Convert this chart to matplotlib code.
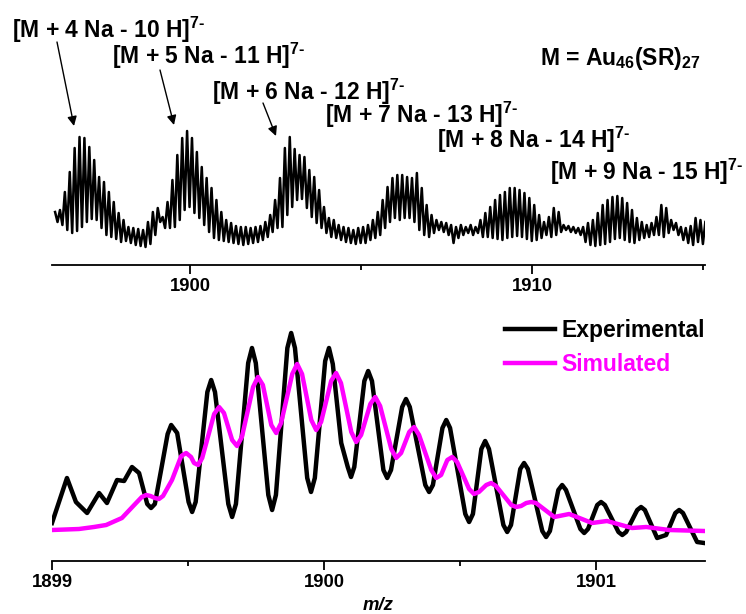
import numpy as np
import matplotlib
matplotlib.use("Agg")
import matplotlib.pyplot as plt

plt.rcParams['font.family'] = ['Liberation Sans', 'DejaVu Sans']
plt.rcParams['font.weight'] = 'bold'
plt.rcParams['mathtext.fontset'] = 'custom'
plt.rcParams['mathtext.rm'] = 'Liberation Sans:bold'
plt.rcParams['mathtext.it'] = 'Liberation Sans:italic:bold'
plt.rcParams['mathtext.bf'] = 'Liberation Sans:bold'

# ---- top panel: wide spectrum, isotope peak maxima / minima (relative intensity)
top_first_mz = 1896.06
isotope_step = 1 / 7   # z = 7
top_peaks = [53, 55, 73, 93, 117, 128, 127, 118, 105, 88, 83, 73, 63, 52, 45, 38, 37, 36, 35, 43,
             53, 57, 48, 63, 85, 110, 127, 134, 127, 113, 98, 87, 77, 65, 53, 45, 42, 39, 38, 38,
             37, 38, 39, 43, 50, 65, 87, 117, 128, 116, 110, 108, 95, 88, 75, 58, 47, 45, 40, 38,
             37, 35, 37, 38, 40, 45, 53, 65, 78, 87, 90, 90, 88, 87, 92, 77, 60, 50, 45, 43,
             42, 40, 38, 40, 38, 40, 38, 45, 52, 58, 65, 70, 73, 77, 77, 75, 72, 67, 60, 50,
             43, 48, 57, 53, 40, 39, 38, 37, 38, 42, 45, 52, 60, 65, 68, 69, 67, 62, 55, 47,
             43, 40, 42, 48, 60, 57, 45, 42, 38, 37, 39, 47, 45, 43]
top_valleys = [43, 40, 35, 32, 34, 38, 43, 46, 45, 37, 30, 28, 26, 23, 24, 22, 20, 19, 18, 21,
               30, 43, 37, 37, 38, 45, 55, 58, 52, 47, 40, 33, 27, 25, 24, 23, 22, 21, 20, 21,
               22, 23, 25, 28, 33, 37, 38, 50, 58, 65, 66, 57, 48, 42, 37, 32, 28, 27, 25, 23,
               22, 21, 22, 22, 25, 27, 30, 37, 43, 47, 45, 47, 47, 43, 35, 30, 28, 32, 35, 33,
               30, 22, 27, 30, 32, 30, 32, 28, 28, 27, 26, 25, 27, 28, 29, 28, 26, 24, 25, 27,
               30, 28, 30, 33, 35, 33, 32, 30, 23, 20, 19, 20, 21, 23, 26, 27, 25, 23, 22, 25,
               27, 28, 30, 30, 28, 32, 35, 30, 25, 22, 20, 23, 21]
top_ticks = [1900, 1910]
top_minor = [1905, 1915]

# ---- bottom panel: zoom on [M + 5 Na - 11 H]7-
exp_mz = [1899.000, 1899.055, 1899.088, 1899.129, 1899.173, 1899.202, 1899.239, 1899.265,
          1899.294, 1899.320, 1899.350, 1899.364, 1899.378, 1899.401, 1899.425, 1899.438,
          1899.460, 1899.502, 1899.515, 1899.528, 1899.571, 1899.585, 1899.599, 1899.648,
          1899.662, 1899.676, 1899.721, 1899.735, 1899.749, 1899.795, 1899.809, 1899.823,
          1899.865, 1899.879, 1899.893, 1899.938, 1899.952, 1899.966, 1900.004, 1900.018,
          1900.032, 1900.063, 1900.087, 1900.099, 1900.111, 1900.148, 1900.162, 1900.176,
          1900.218, 1900.232, 1900.246, 1900.287, 1900.301, 1900.315, 1900.372, 1900.386,
          1900.400, 1900.435, 1900.449, 1900.463, 1900.519, 1900.533, 1900.547, 1900.578,
          1900.592, 1900.606, 1900.659, 1900.673, 1900.687, 1900.721, 1900.735, 1900.749,
          1900.802, 1900.816, 1900.830, 1900.861, 1900.875, 1900.889, 1900.942, 1900.956,
          1900.970, 1901.004, 1901.018, 1901.032, 1901.082, 1901.096, 1901.110, 1901.151,
          1901.165, 1901.179, 1901.224, 1901.257, 1901.291, 1901.305, 1901.319, 1901.371,
          1901.397]
exp_int = [38, 83, 59, 48, 68, 58, 81, 80, 94, 88, 57, 53, 57, 91, 127, 136, 128, 59, 49, 59,
           169, 181, 169, 57, 44, 57, 198, 213, 198, 66, 51, 66, 213, 228, 213, 83, 69, 83, 200, 213,
           197, 118, 94, 84, 94, 180, 190, 180, 91, 83, 91, 154, 162, 154, 76, 69, 76, 133, 141, 133,
           47, 39, 47, 112, 120, 112, 36, 29, 36, 92, 98, 92, 30, 24, 30, 71, 76, 71, 32, 28,
           32, 56, 59, 56, 29, 26, 29, 51, 54, 51, 23, 26, 48, 51, 48, 19, 18]
sim_mz = [1899.000, 1899.099, 1899.154, 1899.199, 1899.257, 1899.309, 1899.330, 1899.346,
          1899.362, 1899.378, 1899.393, 1899.408, 1899.441, 1899.475, 1899.493, 1899.511,
          1899.522, 1899.537, 1899.552, 1899.596, 1899.614, 1899.632, 1899.662, 1899.680,
          1899.698, 1899.739, 1899.757, 1899.775, 1899.806, 1899.824, 1899.842, 1899.883,
          1899.901, 1899.919, 1899.953, 1899.971, 1899.989, 1900.026, 1900.044, 1900.062,
          1900.100, 1900.118, 1900.136, 1900.170, 1900.188, 1900.206, 1900.247, 1900.265,
          1900.283, 1900.313, 1900.331, 1900.349, 1900.394, 1900.412, 1900.430, 1900.453,
          1900.471, 1900.489, 1900.533, 1900.551, 1900.569, 1900.596, 1900.614, 1900.632,
          1900.688, 1900.706, 1900.724, 1900.743, 1900.761, 1900.779, 1900.846, 1900.901,
          1900.985, 1901.040, 1901.132, 1901.184, 1901.268, 1901.397]
sim_int = [31, 32, 34, 36, 43, 58, 64, 66, 65, 63, 62, 65, 81, 105, 108, 104, 98, 96, 103, 147,
           154, 148, 121, 115, 124, 174, 184, 176, 136, 128, 138, 187, 197, 187, 141, 131, 139, 180,
           188, 178, 129, 119, 126, 157, 164, 155, 112, 103, 108, 129, 134, 126, 91, 83, 86, 101,
           104, 99, 72, 67, 69, 76, 78, 75, 56, 54, 55, 58, 59, 58, 44, 47, 38, 40, 33, 34, 31, 30]
bottom_ticks = [1899, 1900, 1901]
bottom_minor = [1899.5, 1900.5]

labels = [r'[M + 4 Na - 10 H]$^{7\text{-}}$', r'[M + 5 Na - 11 H]$^{7\text{-}}$',
          r'[M + 6 Na - 12 H]$^{7\text{-}}$', r'[M + 7 Na - 13 H]$^{7\text{-}}$',
          r'[M + 8 Na - 14 H]$^{7\text{-}}$', r'[M + 9 Na - 15 H]$^{7\text{-}}$']

W, H = 746, 614
fig = plt.figure(figsize=(W / 100, H / 100), dpi=100)


def style_axis(ax, major, minor):
    for s in ['left', 'right', 'top']:
        ax.spines[s].set_visible(False)
    ax.spines['bottom'].set_linewidth(1.3)
    ax.set_yticks([])
    ax.set_xticks(major)
    ax.set_xticks(minor, minor=True)
    ax.tick_params(axis='x', which='major', length=6.5, width=1.3, pad=3,
                   labelsize=13.3)
    ax.tick_params(axis='x', which='minor', length=3.4, width=1.3)
    ax.patch.set_visible(False)


# top axes
ax1 = fig.add_axes([52 / W, (H - 265) / H, 653 / W, 265 / H])
n = len(top_peaks)
pk_x = top_first_mz + np.arange(n) * isotope_step
xs = np.empty(2 * n - 1)
ys = np.empty(2 * n - 1)
xs[0::2] = pk_x
xs[1::2] = pk_x[:-1] + isotope_step / 2
ys[0::2] = top_peaks
ys[1::2] = top_valleys
ax1.plot(xs, ys, color='black', lw=1.8, solid_joinstyle='round')
ax1.set_xlim(1895.97, 1915.05)
ax1.set_ylim(0, 265)
style_axis(ax1, top_ticks, top_minor)

# peak labels: (left x, centre y) in figure pixels from top-left
lab_pos = [(12, 30), (112, 56), (212, 92), (325, 115), (437, 140), (550, 172)]
for (lx, ly), txt in zip(lab_pos, labels):
    fig.text(lx / W, 1 - ly / H, txt, fontsize=16.5, fontweight='bold', ha='left', va='center')
arrows = [((57, 42), (74, 126)), ((160, 70), (174, 125)), ((263, 103), (276, 136))]
for (sx, sy), (ex, ey) in arrows:
    fig.add_artist(matplotlib.patches.FancyArrowPatch(
        (sx / W, 1 - sy / H), (ex / W, 1 - ey / H), transform=fig.transFigure,
        arrowstyle='-|>', color='black', lw=1.0, mutation_scale=14, shrinkA=0, shrinkB=0))
fig.text(701 / W, 1 - 58 / H, r'M = Au$_{46}$(SR)$_{27}$', fontsize=16.5, fontweight='bold',
         ha='right', va='center')

# bottom axes
ax2 = fig.add_axes([52 / W, (H - 561) / H, 653 / W, 281 / H])
ax2.plot(exp_mz, exp_int, color='black', lw=3.2, solid_joinstyle='round', label='Experimental')
ax2.plot(sim_mz, sim_int, color='#ff00ff', lw=3.2, solid_joinstyle='round', label='Simulated')
ax2.set_xlim(1899, 1901.40)
ax2.set_ylim(0, 281)
style_axis(ax2, bottom_ticks, bottom_minor)
fig.text(378 / W, 1 - 606 / H, 'm/z', fontsize=13.3, fontweight='bold', style='italic',
         ha='center', va='center')
leg = ax2.legend(loc='upper right', bbox_to_anchor=(705 / W, 1 - 319 / H),
                 bbox_transform=fig.transFigure, frameon=False, fontsize=16.5,
                 handlelength=2.15, handletextpad=0.3, labelspacing=0.5, labelcolor='linecolor',
                 borderaxespad=0, borderpad=0)
for t in leg.get_texts():
    t.set_fontweight('bold')

fig.savefig('out.png', dpi=100)
